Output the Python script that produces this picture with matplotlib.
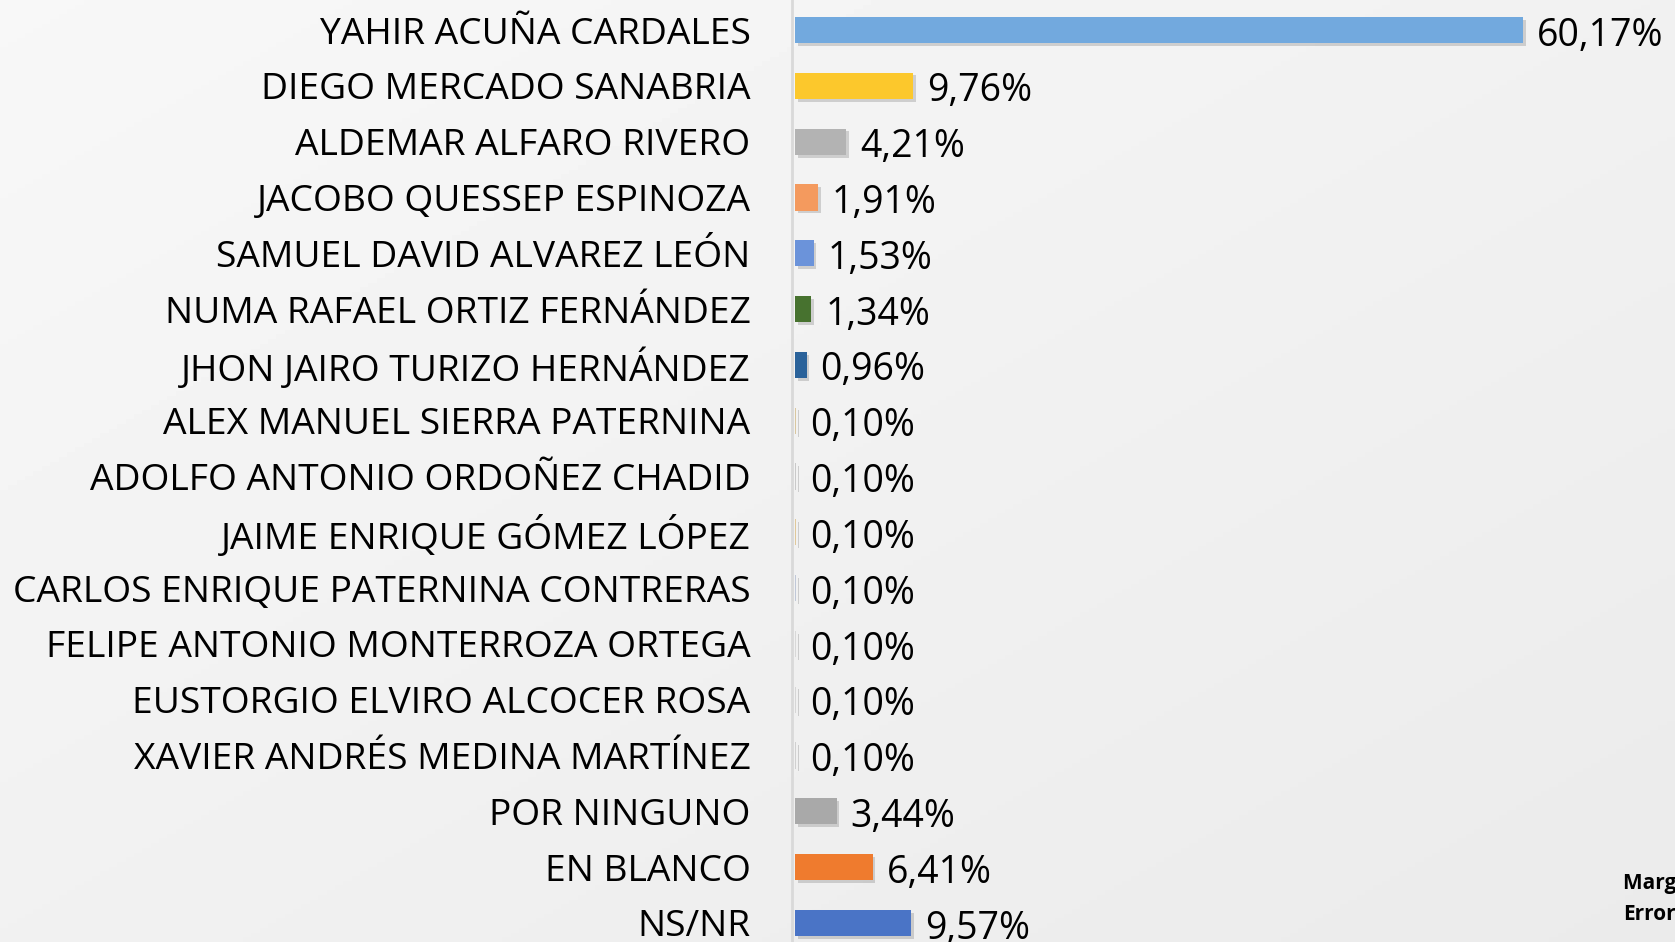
import numpy as np
import matplotlib.pyplot as plt
import matplotlib.patheffects as pe

plt.rcParams["font.family"] = ["Open Sans", "DejaVu Sans"]

# -----------------------------
# Data
# -----------------------------
candidates = [
    "YAHIR ACUÑA CARDALES",
    "DIEGO MERCADO SANABRIA",
    "ALDEMAR ALFARO RIVERO",
    "JACOBO QUESSEP ESPINOZA",
    "SAMUEL DAVID ALVAREZ LEÓN",
    "NUMA RAFAEL ORTIZ FERNÁNDEZ",
    "JHON JAIRO TURIZO HERNÁNDEZ",
    "ALEX MANUEL SIERRA PATERNINA",
    "ADOLFO ANTONIO ORDOÑEZ CHADID",
    "JAIME ENRIQUE GÓMEZ LÓPEZ",
    "CARLOS ENRIQUE PATERNINA CONTRERAS",
    "FELIPE ANTONIO MONTERROZA ORTEGA",
    "EUSTORGIO ELVIRO ALCOCER ROSA",
    "XAVIER ANDRÉS MEDINA MARTÍNEZ",
    "POR NINGUNO",
    "EN BLANCO",
    "NS/NR",
]
percent = [60.17, 9.76, 4.21, 1.91, 1.53, 1.34, 0.96,
           0.10, 0.10, 0.10, 0.10, 0.10, 0.10, 0.10,
           3.44, 6.41, 9.57]
bar_colors = [
    "#72a9de", "#fcc82c", "#b3b3b3", "#f49a5e", "#6b93da", "#47722f", "#2a629a",
    "#d9c7a0", "#c9c9c9", "#e0c89a", "#c0c8d8", "#d8d8d8", "#d6d6d6", "#d0d0d0",
    "#a9a9a9", "#ef7b2e", "#4a74c6",
]

# -----------------------------
# Figure
# -----------------------------
fig = plt.figure(figsize=(16.75, 9.42), dpi=100)
fig.patch.set_facecolor("#f2f2f2")

# soft background gradient
bg = fig.add_axes([0, 0, 1, 1], zorder=-10)
gx, gy = np.meshgrid(np.linspace(0, 1, 200), np.linspace(0, 1, 200))
bg.imshow(0.97 - 0.05 * (0.5 * gx + 0.5 * gy), cmap="gray", vmin=0, vmax=1,
          aspect="auto", extent=[0, 1, 0, 1], origin="upper")
bg.axis("off")

ax = fig.add_axes([795 / 1675, 0, 880 / 1675, 1])
ax.patch.set_alpha(0)

y = np.arange(len(candidates))
bars = ax.barh(y, percent, height=0.47, color=bar_colors, zorder=3)
for b in bars:
    b.set_path_effects([pe.SimplePatchShadow(offset=(2, -2), alpha=0.15, shadow_rgbFace="black"),
                        pe.Normal()])

for yi, v in zip(y, percent):
    ax.text(v + 1.15, yi + 0.1, f"{v:.2f}%".replace(".", ","),
            va="center", ha="left", fontsize=27, color="black")

ax.set_xlim(0, 880 / 12.1)
ax.set_ylim(16 + 19 / 55.8, -30 / 55.8)
ax.set_yticks(y)
ax.set_yticklabels(candidates)
ax.tick_params(axis="y", length=0, pad=30, labelsize=26.8)
ax.set_xticks([])

for s in ["top", "right", "bottom"]:
    ax.spines[s].set_visible(False)
ax.spines["left"].set_color("#d9d9d9")
ax.spines["left"].set_linewidth(2)
ax.spines["left"].set_position(("outward", 2))

fig.text(1623 / 1675, 1 - 899 / 942, "Margen de\nError", fontsize=15,
         fontweight="bold", va="center", ha="left", linespacing=1.62)

plt.savefig("out.png", dpi=100)
